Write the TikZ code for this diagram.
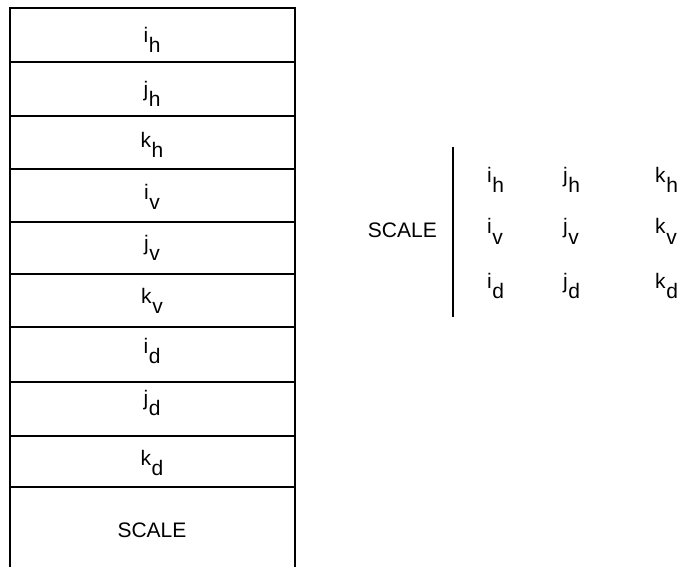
\documentclass[tikz,border=0pt]{standalone}
\usepackage{fontspec}
\setmainfont{Liberation Sans}
\newcommand\vecsub[2]{#1\kern0.6pt\raisebox{-10pt}{#2}}
\begin{document}
\begin{tikzpicture}[x=1pt,y=-1pt,
  frame/.style={line width=1.7pt},
  lab/.style={font=\fontsize{21}{21}\selectfont, inner sep=0pt, anchor=base},
  mat/.style={font=\fontsize{21}{21}\selectfont, inner sep=0pt, anchor=base west}]
\path[use as bounding box] (0,0) rectangle (697,567);
\clip (0,0) rectangle (697,567);
% left stacked box
\draw[frame] (10,590) -- (10,8) -- (295,8) -- (295,590);
\foreach \yy in {62,116,169,222,274,327,382,436,487}
  \draw[frame] (10,\yy) -- (295,\yy);
\node[lab] (c1) at (152,43) {\vecsub{i}{h}};
\node[lab] (c2) at (152,97) {\vecsub{j}{h}};
\node[lab] (c3) at (152,148) {\vecsub{k}{h}};
\node[lab] (c4) at (152,200) {\vecsub{i}{v}};
\node[lab] (c5) at (152,251) {\vecsub{j}{v}};
\node[lab] (c6) at (152,303) {\vecsub{k}{v}};
\node[lab] (c7) at (152,353) {\vecsub{i}{d}};
\node[lab] (c8) at (152,405) {\vecsub{j}{d}};
\node[lab] (c9) at (152,465) {\vecsub{k}{d}};
\node[lab] (c10) at (152,537) {SCALE};
% right matrix
\node[lab, anchor=base east] (sc) at (437,237) {SCALE};
\coordinate (bt) at (453,147);
\coordinate (bb) at (453,317);
\draw[frame] (bt) -- (bb);
\node[mat] (m11) at (487,183) {\vecsub{i}{h}};
\node[mat] (m12) at (563,183) {\vecsub{j}{h}};
\node[mat] (m13) at (655,183) {\vecsub{k}{h}};
\node[mat] (m21) at (487,234) {\vecsub{i}{v}};
\node[mat] (m22) at (563,234) {\vecsub{j}{v}};
\node[mat] (m23) at (655,234) {\vecsub{k}{v}};
\node[mat] (m31) at (487,288) {\vecsub{i}{d}};
\node[mat] (m32) at (563,288) {\vecsub{j}{d}};
\node[mat] (m33) at (655,288) {\vecsub{k}{d}};
\end{tikzpicture}
\end{document}
